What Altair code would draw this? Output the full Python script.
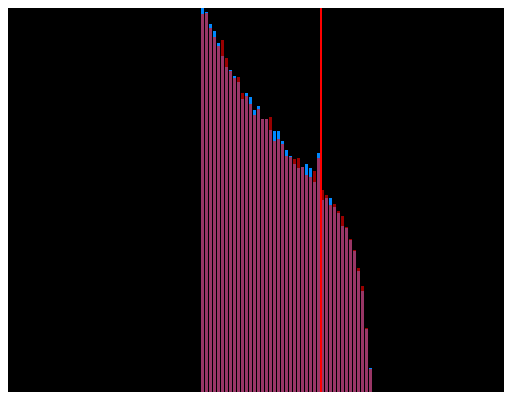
import altair as alt
import pandas as pd

# Bar heights (same units as the vertical scale)
blue = [400, 388, 376, 369, 357, 344, 333, 330, 324, 318, 301, 307, 303, 290, 294,
        281, 281, 270, 269, 269, 259, 250, 244, 236, 232, 233, 236, 232, 218, 247,
        200, 202, 202, 193, 187, 174, 172, 160, 149, 129, 109, 71, 32, 3, 2]
red = [386, 387, 372, 363, 354, 360, 342, 329, 322, 323, 307, 304, 296, 285, 291,
       281, 281, 283, 259, 261, 256, 244, 243, 241, 242, 233, 225, 223, 229, 242,
       210, 205, 195, 196, 189, 184, 173, 161, 150, 132, 114, 72, 31, 4, 0]
marker = [30]

df = pd.DataFrame({"idx": list(range(len(blue))), "blue": blue, "red": red})
mk = pd.DataFrame({"m": marker})

xs = alt.Scale(domain=[-48.25, 75.75], nice=False, zero=False)
ys = alt.Scale(domain=[8, 392], nice=False, zero=False, clamp=True)

base = alt.Chart(df).transform_calculate(x0="datum.idx", x1="datum.idx + 0.75")

blue_bars = base.mark_bar(color="#0088ff", opacity=1, clip=True).encode(
    x=alt.X("x0:Q", scale=xs, axis=None),
    x2="x1:Q",
    y=alt.Y("blue:Q", scale=ys, axis=None),
    y2=alt.datum(0),
)
red_bars = base.mark_bar(color="#ff0000", opacity=0.6, clip=True).encode(
    x=alt.X("x0:Q", scale=xs, axis=None),
    x2="x1:Q",
    y=alt.Y("red:Q", scale=ys, axis=None),
    y2=alt.datum(0),
)
line = alt.Chart(mk).mark_rule(color="#ff0000", strokeWidth=2).encode(
    x=alt.X("m:Q", scale=xs, axis=None)
)

chart = alt.layer(blue_bars, red_bars, line).properties(
    width=496, height=384, padding=0, autosize=alt.AutoSizeParams(type="none"),
    background="#000000",
).configure_view(stroke=None, fill="#000000")

chart.save("out.html", embed_options={"renderer": "svg", "actions": False})
